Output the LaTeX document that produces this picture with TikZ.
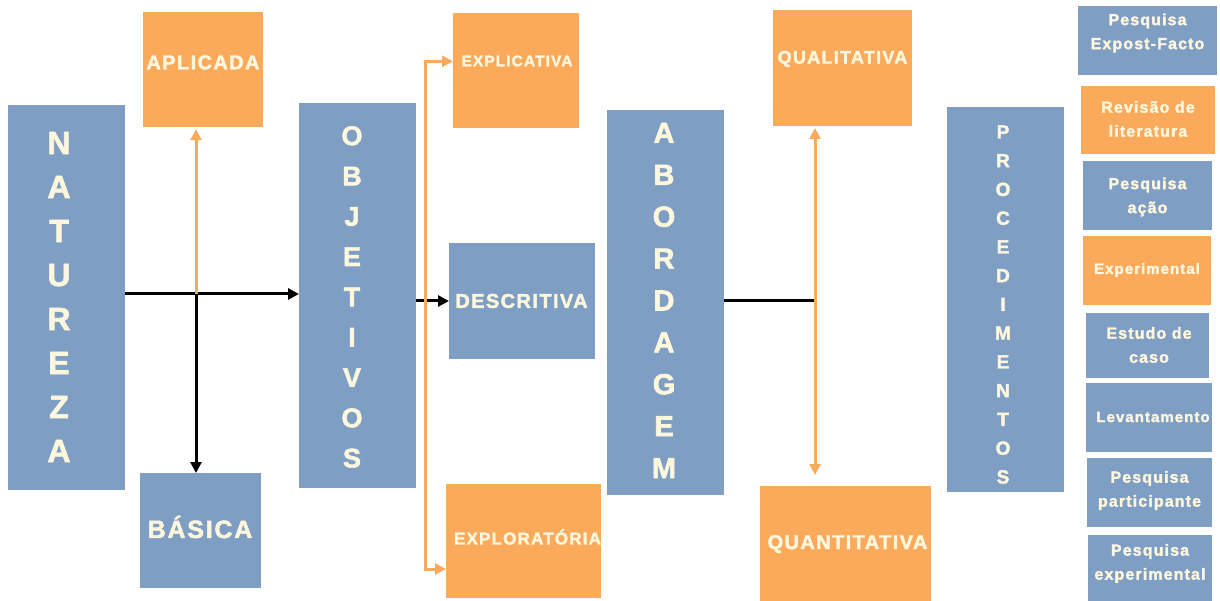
\documentclass[tikz,border=0pt]{standalone}
\usepackage{fontspec}
\setmainfont{Liberation Sans}
\newfontfamily\lblfont{Liberation Sans}[LetterSpace=7, BoldFeatures={FakeBold=2}]
\usetikzlibrary{arrows.meta}
\definecolor{bl}{RGB}{127,158,195}
\definecolor{orng}{RGB}{250,170,90}
\definecolor{tx}{RGB}{253,247,222}
\newcommand{\lblsize}[2]{\lblfont\bfseries\fontsize{#1}{#2}\selectfont}
\tikzset{
  box/.style={rectangle, inner sep=0pt, outer sep=0pt},
  bbox/.style={box, fill=bl},
  obox/.style={box, fill=orng},
  txt/.style={text=tx, align=center, inner sep=0pt},
  blk/.style={draw=black, line width=3pt},
  org/.style={draw=orng, line width=3pt},
  tip/.style={-{Triangle[length=11pt,width=11pt]}},
  dtip/.style={{Triangle[length=11pt,width=11pt]}-{Triangle[length=11pt,width=11pt]}},
}
\begin{document}
\begin{tikzpicture}[x=1pt,y=-1pt]
\useasboundingbox (0,0) rectangle (1220,601);
% big vertical boxes
\node[bbox, minimum width=117, minimum height=385] (nat) at (66.7,297.3) {};
\node[txt, font=\lblsize{32}{44}] (natT) at (59,297) {N\\A\\T\\U\\R\\E\\Z\\A};
\node[bbox, minimum width=117, minimum height=385] (obj) at (357.5,295.3) {};
\node[txt, font=\lblsize{27}{40.3}] (objT) at (352,297) {O\\B\\J\\E\\T\\I\\V\\O\\S};
\node[bbox, minimum width=117, minimum height=385] (abo) at (665.5,302.5) {};
\node[txt, font=\lblsize{29}{41.9}] (aboT) at (664,300.5) {A\\B\\O\\R\\D\\A\\G\\E\\M};
\node[bbox, minimum width=117, minimum height=385] (pro) at (1005.5,299.5) {};
\node[txt, font=\lblsize{19}{28.75}] (proT) at (1003,304.5) {P\\R\\O\\C\\E\\D\\I\\M\\E\\N\\T\\O\\S};
% category boxes
\node[obox, minimum width=120, minimum height=115.5] (apl) at (203,69.5) {};
\node[txt, font=\lblsize{20}{24}] (aplT) at (203,62.4) {APLICADA};
\node[bbox, minimum width=121, minimum height=115] (bas) at (200.5,530.5) {};
\node[txt, font=\lblsize{25}{30}] (basT) at (200,527) {BÁSICA};
\node[obox, minimum width=126, minimum height=115.5] (expl) at (516,70.3) {};
\node[txt, font=\lblsize{15.5}{20}] (explT) at (517,61) {EXPLICATIVA};
\node[bbox, minimum width=146, minimum height=116] (desc) at (522,301) {};
\node[txt, font=\lblsize{20}{24}] (descT) at (521.5,301) {DESCRITIVA};
\node[obox, minimum width=155, minimum height=114] (explo) at (523.5,541) {};
\node[txt, font=\lblsize{17}{20}] (exploT) at (527.5,537) {EXPLORATÓRIA};
\node[obox, minimum width=139, minimum height=116] (qual) at (842.5,68) {};
\node[txt, font=\lblsize{18}{22}] (qualT) at (842.5,59) {QUALITATIVA};
\node[obox, minimum width=171, minimum height=115] (quan) at (845.5,543.5) {};
\node[txt, font=\lblsize{20}{24}] (quanT) at (847.5,544) {QUANTITATIVA};
% procedure column
\node[bbox, minimum width=139, minimum height=69] (p1) at (1147.5,40.2) {};
\node[txt, font=\lblsize{16}{24}] (p1T) at (1147.5,33) {Pesquisa\\Expost-Facto};
\node[obox, minimum width=134, minimum height=68] (p2) at (1148,120) {};
\node[txt, font=\lblsize{16}{24}] (p2T) at (1148,119) {Revisão de\\literatura};
\node[bbox, minimum width=129, minimum height=69] (p3) at (1147.5,195.5) {};
\node[txt, font=\lblsize{16}{24}] (p3T) at (1147.5,197) {Pesquisa\\ação};
\node[obox, minimum width=128, minimum height=69] (p4) at (1147,270.5) {};
\node[txt, font=\lblsize{15}{24}] (p4T) at (1147,270) {Experimental};
\node[bbox, minimum width=123, minimum height=65] (p5) at (1147.5,345.5) {};
\node[txt, font=\lblsize{16}{24}] (p5T) at (1149,345) {Estudo de\\caso};
\node[bbox, minimum width=126, minimum height=69] (p6) at (1149,417.5) {};
\node[txt, font=\lblsize{15}{24}] (p6T) at (1153,417) {Levantamento};
\node[bbox, minimum width=125, minimum height=69] (p7) at (1149.5,492.5) {};
\node[txt, font=\lblsize{16}{24}] (p7T) at (1149.5,490.5) {Pesquisa\\participante};
\node[bbox, minimum width=124, minimum height=66] (p8) at (1150,568) {};
\node[txt, font=\lblsize{16}{24}] (p8T) at (1150,563.5) {Pesquisa\\experimental};
% connectors
\coordinate (j1) at (196,294);
\draw[blk, tip] (nat.east |- j1) -- (obj.west |- j1);
\draw[blk, tip] (j1) -- (j1 |- bas.north);
\draw[org, tip] (j1) -- ([yshift=-2pt]j1 |- apl.south);
\draw[blk, tip] (obj.east |- desc.west) -- (desc.west);
\coordinate (ob) at (425,300);
\draw[org, tip] (ob) |- ([yshift=9pt]expl.west);
\draw[org, tip] (ob) |- ([yshift=-28pt]explo.west);
\coordinate (j3) at (815,301);
\draw[blk] (abo.east |- j3) -- (j3);
\draw[org, dtip, shorten <=2pt, shorten >=11pt] (j3 |- qual.south) -- (j3 |- quan.north);
\end{tikzpicture}
\end{document}
